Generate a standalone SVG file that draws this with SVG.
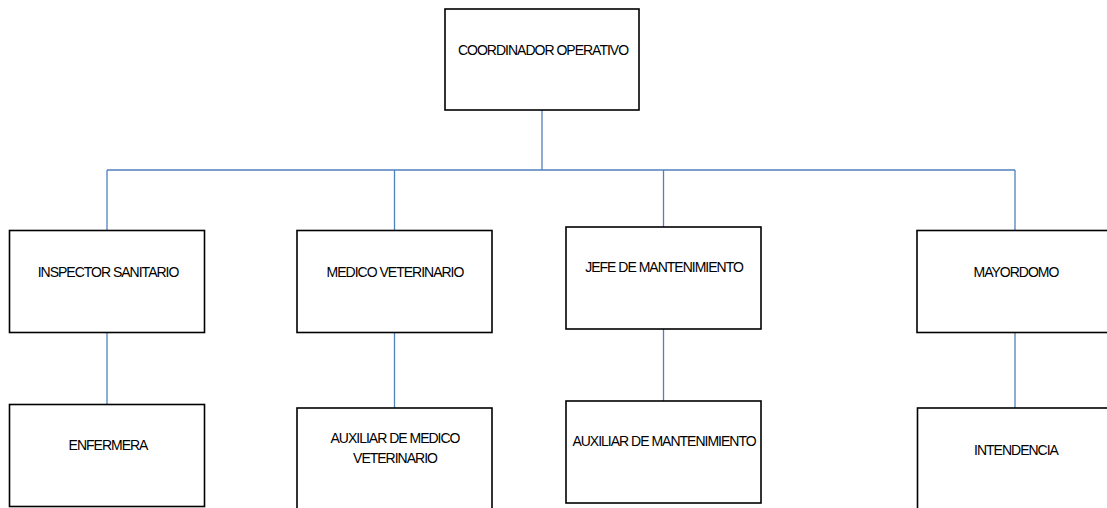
<svg xmlns="http://www.w3.org/2000/svg" width="1107" height="508" viewBox="0 0 1107 508">
<style>
.box{fill:#fff;stroke:#000;stroke-width:1.6}
.lbl{font-family:"Liberation Sans",Arial,sans-serif;font-size:14px;letter-spacing:-1px;fill:#000;text-anchor:middle}
.con{stroke:#4F81BD;stroke-width:1.3;fill:none}
</style>
<rect width="1107" height="508" fill="#fff"/>
<g id="connectors">
<line class="con" x1="542" y1="110" x2="542" y2="170"/>
<line class="con" x1="107" y1="170" x2="1015" y2="170"/>
<line class="con" x1="107" y1="170" x2="107" y2="230"/>
<line class="con" x1="394.5" y1="170" x2="394.5" y2="230"/>
<line class="con" x1="663.5" y1="170" x2="663.5" y2="227"/>
<line class="con" x1="1015" y1="170" x2="1015" y2="230"/>
<line class="con" x1="107" y1="332" x2="107" y2="404"/>
<line class="con" x1="394.5" y1="332" x2="394.5" y2="408"/>
<line class="con" x1="663.5" y1="329" x2="663.5" y2="401"/>
<line class="con" x1="1015" y1="332" x2="1015" y2="408"/>
</g>
<g id="coordinador">
<rect class="box" x="445" y="9" width="194" height="101"/>
<text class="lbl" x="543" y="55">COORDINADOR OPERATIVO</text>
</g>
<g id="inspector">
<rect class="box" x="9.5" y="230.5" width="195" height="102"/>
<text class="lbl" x="108" y="277">INSPECTOR SANITARIO</text>
</g>
<g id="medico">
<rect class="box" x="297" y="230.5" width="195" height="102"/>
<text class="lbl" x="395" y="277">MEDICO VETERINARIO</text>
</g>
<g id="jefe">
<rect class="box" x="566" y="227" width="195" height="102"/>
<text class="lbl" x="664" y="272">JEFE DE MANTENIMIENTO</text>
</g>
<g id="mayordomo">
<rect class="box" x="917" y="230.5" width="196" height="102"/>
<text class="lbl" x="1016" y="277">MAYORDOMO</text>
</g>
<g id="enfermera">
<rect class="box" x="9.5" y="404.5" width="195" height="102"/>
<text class="lbl" x="108" y="450">ENFERMERA</text>
</g>
<g id="auxiliar-medico">
<rect class="box" x="297" y="408" width="195" height="104"/>
<text class="lbl" x="395" y="443">AUXILIAR DE MEDICO</text>
<text class="lbl" x="395" y="463">VETERINARIO</text>
</g>
<g id="auxiliar-mantenimiento">
<rect class="box" x="566" y="401" width="195" height="102"/>
<text class="lbl" x="664" y="446">AUXILIAR DE MANTENIMIENTO</text>
</g>
<g id="intendencia">
<rect class="box" x="917.5" y="408" width="196" height="104"/>
<text class="lbl" x="1016" y="455">INTENDENCIA</text>
</g>
</svg>
